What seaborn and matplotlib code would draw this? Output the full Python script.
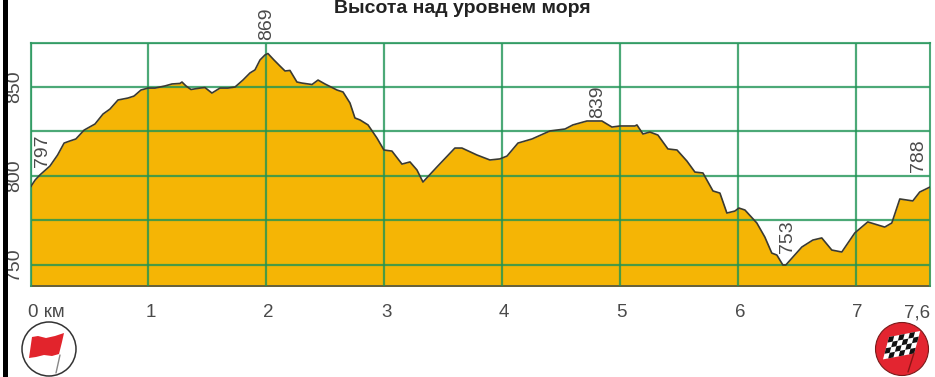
import matplotlib
matplotlib.use("Agg")
import matplotlib.pyplot as plt
from matplotlib.patches import Circle, Polygon, Rectangle
from matplotlib.transforms import Affine2D
import seaborn as sns
import pandas as pd
import numpy as np

km = [0.00,0.04,0.08,0.165,0.23,0.285,0.335,0.385,0.455,0.547,0.615,0.674,0.742,0.827,0.878,0.937,0.997,1.056,1.141,1.2,
      1.268,1.285,1.319,1.361,1.438,1.48,1.539,1.607,1.675,1.735,1.802,1.862,1.904,1.947,1.989,2.014,2.065,2.116,2.159,2.201,
      2.26,2.303,2.388,2.439,2.498,2.6,2.651,2.71,2.752,2.795,2.863,2.939,2.998,3.066,3.151,3.219,3.278,3.329,3.448,3.6,
      3.66,3.787,3.897,3.982,4.042,4.135,4.254,4.406,4.534,4.601,4.72,4.847,4.932,5.0,5.127,5.144,5.195,5.254,5.322,5.407,
      5.484,5.568,5.636,5.704,5.789,5.848,5.907,5.975,6.009,6.06,6.161,6.229,6.288,6.331,6.382,6.407,6.543,6.636,6.712,6.797,
      6.882,6.992,7.102,7.246,7.306,7.374,7.484,7.543,7.63]
elevation = [793.8,797.8,800.6,805.6,811.8,818.5,819.7,820.8,825.8,829.2,834.8,837.6,842.7,843.8,844.9,848.3,849.4,849.4,850.6,851.7,
      852,852.8,850.6,848.6,849.4,849.7,846.6,849.4,849.4,850,853.9,857.9,859.6,865.2,868,868.8,865.2,861.8,859,859.3,
      852.8,852.2,851.4,853.9,851.7,848.3,847.2,841,832.6,831.5,828.7,821.3,814.6,814,806.7,807.9,803.4,796.6,805.1,815.7,
      815.7,811.8,809,809.6,811.2,818.5,820.8,825.3,826.4,828.7,830.9,830.9,827.5,828.1,828.1,828.7,823.6,824.7,823,815.2,
      814.6,808.4,802.2,801.7,791.6,790.4,779.2,780.3,782,780.9,773.6,765.7,756.7,755.6,750,750,760.1,764,765.2,758.4,
      757.3,768,774.2,771.3,773.6,787.1,786,791,793.8]
km_ticks = [0,1,2,3,4,5,6,7,7.6]
km_labels = ["0 км","1","2","3","4","5","6","7","7,6"]
elev_ticks = [750,800,850]
elev_labels = ["750","800","850"]
peak_labels = ["797","869","839","753","788"]
peak_km = [0.1,2.0,4.81,6.42,7.53]
peak_elev = [805,876.4,832.6,756.7,802]
title = "Высота над уровнем моря"

W, H = 935, 377
sns.set_theme(style="white")
plt.rcParams['font.family'] = ['Liberation Sans', 'DejaVu Sans']
TXT = "#4a4a4a"
fig = plt.figure(figsize=(W/100, H/100), dpi=100, facecolor="white")
ax = fig.add_axes([30.5/W, 1-286/H, 899.5/W, 243.5/H])
df = pd.DataFrame({"km": km, "elev": elevation})
ax.fill_between(df.km, 730, df.elev, color="#F5B505", lw=0, zorder=1)
sns.lineplot(data=df, x="km", y="elev", ax=ax, color="#3a3a32", lw=1.2, zorder=4, errorbar=None, estimator=None, sort=False)
ax.lines[-1].set_solid_joinstyle("round")
ax.set_xlim(0, 7.63)
ax.set_ylim(738.2, 875)
ax.set_xlabel(""); ax.set_ylabel("")
ax.set_xticks(range(0, 8))
ax.set_yticks(np.arange(750, 876, 25))
ax.grid(True, color="#1f9455", lw=1.6, alpha=0.8, zorder=3)
ax.set_axisbelow(False)
ax.tick_params(length=0, labelbottom=False, labelleft=False)
for l in ax.get_xgridlines()+ax.get_ygridlines():
    l.set_zorder(3)
for s in ["top","left","right"]:
    ax.spines[s].set_color("#2f9a62"); ax.spines[s].set_linewidth(1.5); ax.spines[s].set_alpha(0.85); ax.spines[s].set_zorder(3)
ax.spines["bottom"].set_color("#5a5a40"); ax.spines["bottom"].set_linewidth(1.3)

tr = Affine2D().scale(1/W, -1/H).translate(0, 1) + fig.transFigure

# Left black bar
fig.add_artist(Rectangle((3, 0), 5, H, transform=tr, color="black", lw=0))

fig.text(462/W, 1-8.5/H, title, ha="center", va="center", fontsize=14, fontweight="bold", color="#222222")

for k, lab in zip(km_ticks, km_labels):
    if lab == "0 км":
        dx, ha = -3, "left"
    elif lab == "7,6":
        dx, ha = -9, "center"
    else:
        dx, ha = 2, "center"
    ax.annotate(lab, (k, 738.2), xytext=(dx, -31), textcoords="offset pixels", ha=ha, va="baseline", fontsize=13.5, color=TXT)

for v, lab in zip(elev_ticks, elev_labels):
    ax.annotate(lab, (0, v), xytext=(-16, 0), textcoords="offset pixels", ha="center", va="center", rotation=90, fontsize=14, color=TXT,
                annotation_clip=False)

for k, v, lab in zip(peak_km, peak_elev, peak_labels):
    ax.annotate(lab, (k, v), ha="center", va="bottom", rotation=90, fontsize=14, color=TXT, annotation_clip=False, zorder=6)

# Start icon
fig.add_artist(Circle((49, 349), 27, transform=tr, fc="white", ec="#333333", lw=1.1))
fig.add_artist(Polygon([(32,337),(38,336),(46,338),(55,336),(64,333),(62,342),(59,354),(52,356),(44,355),(36,357),(29,358)],
                       closed=True, transform=tr, fc="#E2242C", ec="none"))
fig.add_artist(plt.Line2D([60,56],[355,373], transform=tr, color="#888888", lw=1))

# Finish icon
fig.add_artist(Circle((902, 349), 26.5, transform=tr, fc="#E32530", ec="#7a1a1a", lw=0.8))
o = np.array([889.0, 337.0])
a = np.array([5.2, -1.0]); b = np.array([-1.5, 5.6])
fig.add_artist(Polygon([o, o+6*a, o+6*a+4*b, o+4*b], closed=True, transform=tr, fc="white", ec="none"))
for i in range(6):
    for j in range(4):
        if (i+j) % 2 == 0:
            p = o+i*a+j*b
            fig.add_artist(Polygon([p, p+a, p+a+b, p+b], closed=True, transform=tr, fc="#111111", ec="none"))
fig.add_artist(plt.Line2D([914,908],[353,372], transform=tr, color="#8a1414", lw=1))

fig.savefig("out.png", dpi=100)
